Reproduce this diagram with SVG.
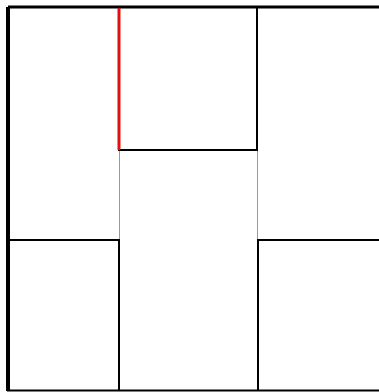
<svg xmlns="http://www.w3.org/2000/svg" width="379" height="392" viewBox="0 0 379 392">
<style>
.wall{stroke:#000;stroke-width:2;fill:none;stroke-linecap:square}
.thin{stroke:#999;stroke-width:1;fill:none}
.red{stroke:#e01010;stroke-width:3;fill:none}
</style>
<rect width="379" height="392" fill="#fff"/>
<g id="frame">
<line x1="8" y1="7" x2="8" y2="391" stroke="#000" stroke-width="4"/>
<line x1="8" y1="7" x2="381" y2="7" stroke="#000" stroke-width="3"/>
<line x1="8" y1="390.5" x2="381" y2="390.5" class="wall"/>
</g>
<g id="top-box">
<polyline class="wall" points="257,8 257,150 119,150"/>
</g>
<g id="guides">
<line class="thin" x1="119.5" y1="151" x2="119.5" y2="239"/>
<line class="thin" x1="257.5" y1="151" x2="257.5" y2="239"/>
</g>
<g id="bottom-left">
<polyline class="wall" points="9,240 119,240 119,390"/>
</g>
<g id="bottom-right">
<polyline class="wall" points="380,240 258,240 258,390"/>
</g>
<line class="red" x1="119" y1="8" x2="119" y2="150"/>
</svg>
